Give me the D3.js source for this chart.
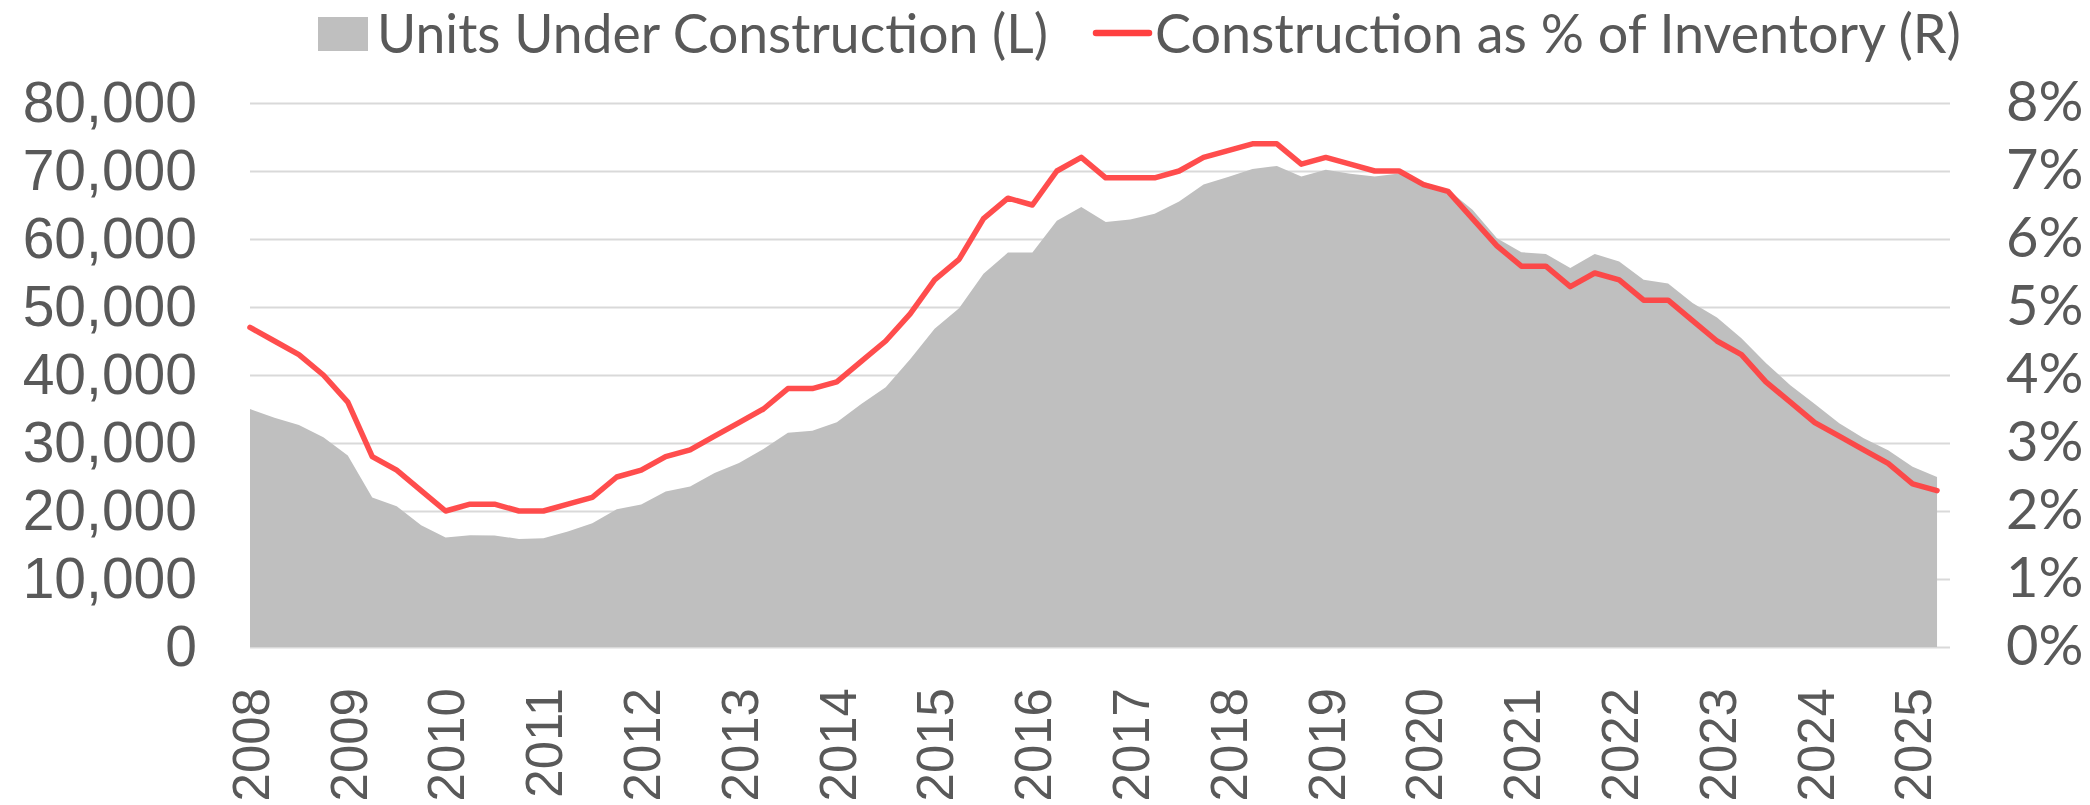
<!DOCTYPE html>
<html>
<head>
<meta charset="utf-8">
<script src="https://cdn.jsdelivr.net/npm/d3@7"></script>
<style>
  body { margin: 0; background: #ffffff; }
  #chart svg { display: block; }
</style>
</head>
<body>
<div id="chart"></div>
<script>
// quarterly series, 2008 Q1 .. 2025 Q2
const units = [35000, 33700, 32650, 30850, 28150, 22000, 20700, 17900, 16100, 16450,
  16400, 15900, 16000, 17000, 18200, 20250, 20950, 22850, 23600, 25600,
  27050, 29100, 31500, 31800, 33050, 35750, 38200, 42300, 46800, 49800,
  54900, 58000, 58000, 62700, 64700, 62500, 62850, 63700, 65500, 68000,
  69100, 70300, 70750, 69200, 70200, 69600, 69200, 69650, 68400, 67250,
  64300, 60100, 58050, 57800, 55750, 57800, 56700, 54000, 53450, 50600,
  48450, 45400, 41750, 38500, 35750, 32900, 30700, 28950, 26500, 25000];

const pctInventory = [4.7, 4.5, 4.3, 4.0, 3.6, 2.8, 2.6, 2.3, 2.0, 2.1,
  2.1, 2.0, 2.0, 2.1, 2.2, 2.5, 2.6, 2.8, 2.9, 3.1,
  3.3, 3.5, 3.8, 3.8, 3.9, 4.2, 4.5, 4.9, 5.4, 5.7,
  6.3, 6.6, 6.5, 7.0, 7.2, 6.9, 6.9, 6.9, 7.0, 7.2,
  7.3, 7.4, 7.4, 7.1, 7.2, 7.1, 7.0, 7.0, 6.8, 6.7,
  6.3, 5.9, 5.6, 5.6, 5.3, 5.5, 5.4, 5.1, 5.1, 4.8,
  4.5, 4.3, 3.9, 3.6, 3.3, 3.1, 2.9, 2.7, 2.4, 2.3];

const years = ["2008", "2009", "2010", "2011", "2012", "2013", "2014", "2015", "2016",
  "2017", "2018", "2019", "2020", "2021", "2022", "2023", "2024", "2025"];

const leftTicks = [0, 10000, 20000, 30000, 40000, 50000, 60000, 70000, 80000];
const rightTicks = [0, 1, 2, 3, 4, 5, 6, 7, 8];

const legendLabels = ["Units Under Construction (L)", "Construction as % of Inventory (R)"];

// layout
const W = 2090, H = 805;
const plot = {left: 250, right: 1950, top: 103, bottom: 647};
const textColor = "#595959";
const gridColor = "#d9d9d9";
const areaColor = "#bfbfbf";
const lineColor = "#ff4040";

const svg = d3.select("#chart")
  .append("svg")
    .attr("width", W)
    .attr("height", H)
    .attr("viewBox", `0 0 ${W} ${H}`);

// scales
const xScale = d3.scaleLinear()
  .domain([0, 69.53])
  .range([plot.left, plot.right]);

const yLeft = d3.scaleLinear()
  .domain([0, 80000])
  .range([plot.bottom, plot.top]);

const yRight = d3.scaleLinear()
  .domain([0, 8])
  .range([plot.bottom, plot.top]);

// gridlines
svg.append("g")
  .attr("class", "grid")
  .attr("transform", `translate(${plot.left}, 0)`)
  .call(d3.axisLeft(yLeft).tickValues(leftTicks).tickSize(-(plot.right - plot.left)).tickFormat(""))
  .call(g => g.select(".domain").remove())
  .call(g => g.selectAll("line").attr("stroke", gridColor).attr("stroke-width", 2.2));

// area: units under construction
const area = d3.area()
  .x((d, i) => xScale(i))
  .y0(yLeft(0))
  .y1(d => yLeft(d));

svg.append("path")
  .datum(units)
  .attr("fill", areaColor)
  .attr("d", area);

// line: construction as % of inventory
const line = d3.line()
  .x((d, i) => xScale(i))
  .y(d => yRight(d));

svg.append("path")
  .datum(pctInventory)
  .attr("fill", "none")
  .attr("stroke", lineColor)
  .attr("stroke-opacity", 0.93)
  .attr("stroke-width", 5.5)
  .attr("stroke-linejoin", "round")
  .attr("stroke-linecap", "round")
  .attr("d", line);

// left axis
svg.append("g")
  .attr("transform", `translate(${plot.left}, 0)`)
  .call(d3.axisLeft(yLeft).tickValues(leftTicks).tickSize(0).tickPadding(53).tickFormat(d3.format(",")))
  .call(g => g.select(".domain").remove())
  .call(g => g.selectAll("text")
    .attr("fill", textColor)
    .style("font-family", "'Liberation Sans', Arial, sans-serif")
    .style("font-size", "57px"));

// right axis
svg.append("g")
  .attr("transform", `translate(${plot.right}, 0)`)
  .call(d3.axisRight(yRight).tickValues(rightTicks).tickSize(0).tickPadding(56).tickFormat(d => d + "%"))
  .call(g => g.select(".domain").remove())
  .call(g => g.selectAll("text")
    .attr("fill", textColor)
    .style("font-family", "Lato, 'Open Sans', sans-serif")
    .style("font-size", "56px"));

// x axis, one label per year, rotated
svg.append("g")
  .attr("transform", `translate(0, ${plot.bottom})`)
  .call(d3.axisBottom(xScale).tickValues(years.map((y, i) => i * 4)).tickSize(0).tickFormat((d, i) => years[i]))
  .call(g => g.select(".domain").remove())
  .call(g => g.selectAll("text")
    .attr("fill", textColor)
    .style("font-family", "'Liberation Sans', Arial, sans-serif")
    .style("font-size", "51px")
    .attr("transform", "rotate(-90)")
    .attr("text-anchor", "end")
    .attr("x", -41)
    .attr("y", 0)
    .attr("dy", "0.36em"));

// legend
const legend = svg.append("g").attr("class", "legend");

legend.append("rect")
  .attr("x", 318).attr("y", 17)
  .attr("width", 50).attr("height", 34)
  .attr("fill", areaColor);

legend.append("line")
  .attr("x1", 1096).attr("x2", 1149)
  .attr("y1", 33).attr("y2", 33)
  .attr("stroke", lineColor)
  .attr("stroke-width", 6.5)
  .attr("stroke-linecap", "round");

const legendSpots = [{x: 377, w: 671}, {x: 1155, w: 806}];

// Calibri-like narrow look: larger type squeezed into the original width
legend.selectAll("text.lab")
  .data(legendLabels)
  .join("text")
    .attr("class", "lab")
    .attr("x", (d, i) => legendSpots[i].x)
    .attr("y", 53)
    .attr("fill", textColor)
    .attr("textLength", (d, i) => legendSpots[i].w)
    .attr("lengthAdjust", "spacingAndGlyphs")
    .style("font-family", "Lato, 'Open Sans', sans-serif")
    .style("font-size", "55px")
    .text(d => d);
</script>
</body>
</html>
